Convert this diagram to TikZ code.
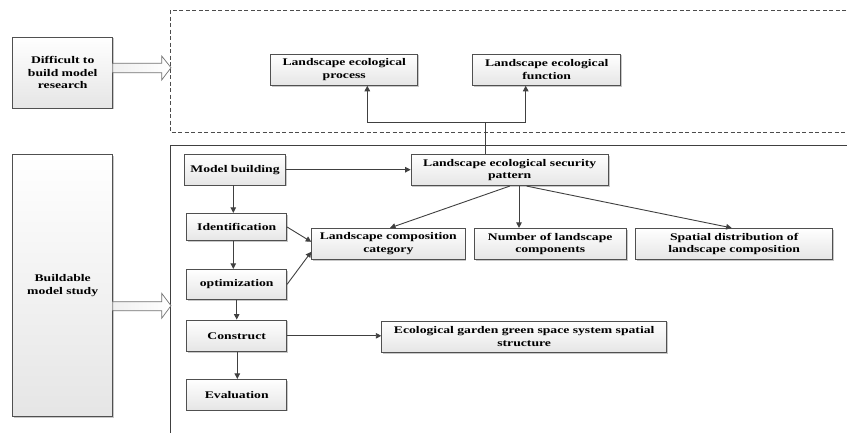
\documentclass[tikz,border=0pt]{standalone}
\usepackage{fontspec}
\setmainfont{Liberation Serif}[FakeStretch=1.34]
\usetikzlibrary{shadows,arrows.meta,calc}
\definecolor{edge}{HTML}{505050}
\definecolor{line}{HTML}{404040}
\tikzset{
  box/.style={draw=edge, line width=0.8pt, top color=white, bottom color=black!10,
    drop shadow={shadow xshift=1.3pt, shadow yshift=-1.3pt, fill=black!30, opacity=0.7},
    align=center, inner sep=1pt, font=\bfseries\fontsize{10.2}{12.5}\selectfont},
  arr/.style={draw=line, line width=0.9pt, -{Triangle[length=5.5pt,width=5.5pt]}},
  plain/.style={draw=line, line width=0.9pt},
  blockarrow/.style={draw=black!55, line width=0.7pt, left color=black!6, right color=white}
}
\begin{document}
\begin{tikzpicture}[x=1pt,y=-1pt]
\useasboundingbox (0,0) rectangle (847,432);
\clip (0,0) rectangle (847,432);
\fill[white] (0,0) rectangle (847,432);
% frames
\draw[dashed, draw=black!70, line width=0.8pt, dash pattern=on 4pt off 2.5pt] (170.7,10) rectangle (870,132.7);
\draw[draw=black!75, line width=0.8pt] (170.7,145) rectangle (870,450);
% left nodes
\node[box, minimum width=100pt, minimum height=71pt, text width=96pt] (diff) at (62.7,72.5) {Difficult to\\build model\\research};
\node[box, minimum width=100pt, minimum height=262pt, text width=96pt] (build) at (62.7,285.5) {Buildable\\model study};
% block arrows
\path[blockarrow] (112.7,63.3) -- (161.7,63.3) -- (161.7,56) -- (171,67.7) -- (161.7,80) -- (161.7,72.7) -- (112.7,72.7) -- cycle;
\path[blockarrow] (112.7,301.7) -- (161.7,301.7) -- (161.7,293.3) -- (171,305.7) -- (161.7,318.3) -- (161.7,310.7) -- (112.7,310.7) -- cycle;
% top nodes
\node[box, minimum width=147pt, minimum height=31.3pt, text width=145pt] (proc) at (344.2,69.7) {Landscape ecological\\process};
\node[box, minimum width=148pt, minimum height=31.3pt, text width=146pt] (func) at (546.7,69.7) {Landscape ecological\\function};
% chain
\node[box, minimum width=101.4pt, minimum height=30.7pt] (model) at (235,169.7) {Model building};
\node[box, minimum width=100pt, minimum height=27.4pt] (ident) at (236.7,227) {Identification};
\node[box, minimum width=100pt, minimum height=30pt] (optim) at (236.7,284.3) {optimization};
\node[box, minimum width=100pt, minimum height=31.7pt] (constr) at (236.7,335.8) {Construct};
\node[box, minimum width=100pt, minimum height=30.7pt] (evalu) at (236.7,394.7) {Evaluation};
% right nodes
\node[box, minimum width=197.3pt, minimum height=31.4pt, text width=195pt] (sec) at (509.7,170) {Landscape ecological security\\pattern};
\node[box, minimum width=153.3pt, minimum height=31pt, text width=151pt] (cat) at (388.3,243.8) {Landscape composition\\category};
\node[box, minimum width=151.7pt, minimum height=31pt, text width=150pt] (num) at (550.2,243.8) {Number of landscape\\components};
\node[box, minimum width=197pt, minimum height=31pt, text width=195pt] (spat) at (734.2,243.8) {Spatial distribution of\\landscape composition};
\node[box, minimum width=285pt, minimum height=31.3pt, text width=283pt] (eco) at (524.2,336.7) {Ecological garden green space system spatial\\structure};
% connectors
\coordinate (j) at (485.7,122.7);
\draw[plain] (sec.north -| j) -- (j);
\draw[arr] (j) -| ([xshift=23.1pt]proc.south);
\draw[arr] (j) -| ([xshift=-21pt]func.south);
\draw[arr] (model.east) -- (model.east -| sec.west);
\draw[arr] ([xshift=-1.7pt]model.south) -- ([xshift=-1.7pt]model.south |- ident.north);
\draw[arr] ([xshift=-3.4pt]ident.south) -- ([xshift=-3.4pt]ident.south |- optim.north);
\draw[arr] (optim.south) -- (optim.south |- constr.north);
\draw[arr] ([xshift=0.6pt]constr.south) -- ([xshift=0.6pt]constr.south |- evalu.north);
\draw[arr] (ident.east) -- ([yshift=2pt]cat.west);
\draw[arr] (optim.east) -- ([yshift=-8pt]cat.west);
\draw[arr] (sec.south) -- ([xshift=1.7pt]cat.north);
\draw[arr] ([xshift=9.3pt]sec.south) -- ([xshift=9.3pt]sec.south |- num.north);
\draw[arr] ([xshift=17pt]sec.south) -- ([xshift=-2.5pt]spat.north);
\draw[arr] (constr.east) -- (constr.east -| eco.west);
\end{tikzpicture}
\end{document}
